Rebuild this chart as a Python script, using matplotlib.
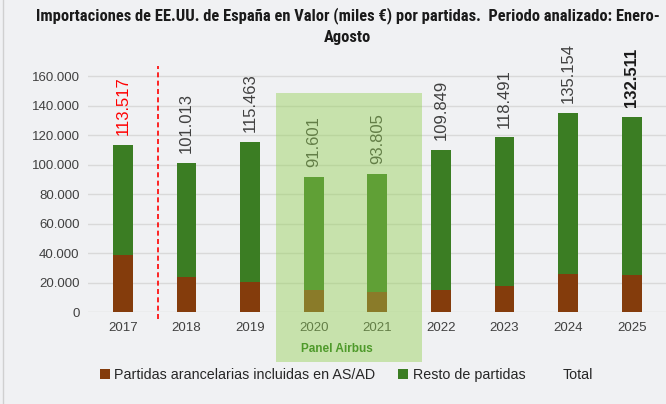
import matplotlib
matplotlib.use("Agg")
import matplotlib.pyplot as plt
import matplotlib.transforms as mtransforms
from matplotlib.patches import Patch, Rectangle
from matplotlib.lines import Line2D

years = ["2017", "2018", "2019", "2020", "2021", "2022", "2023", "2024", "2025"]
totals = [113517, 101013, 115463, 91601, 93805, 109849, 118491, 135154, 132511]
asad = [38600, 23900, 20100, 14900, 13800, 14900, 17800, 26000, 25100]
resto = [t - a for t, a in zip(totals, asad)]
total_labels = ["113.517", "101.013", "115.463", "91.601", "93.805",
                "109.849", "118.491", "135.154", "132.511"]

brown = "#843c0c"
green = "#3b7d23"
bg = "#f0f1f3"

plt.rcParams['font.family'] = ['Liberation Sans', 'DejaVu Sans']

fig = plt.figure(figsize=(6.66, 4.04), dpi=100, facecolor=bg)
ax = fig.add_axes([0.132, 0.2277, 0.868, 0.6097])
ax.set_facecolor(bg)

# thin frame line on the left edge
fig.add_artist(Line2D([0.005, 0.005], [0, 1], transform=fig.transFigure,
                      color="#d0d0d0", linewidth=1))

x = list(range(len(years)))
ax.bar(x, asad, width=0.31, color=brown, zorder=2)
ax.bar(x, resto, width=0.31, bottom=asad, color=green, zorder=2)

for i, (t, lab) in enumerate(zip(totals, total_labels)):
    col = "#404040"
    weight = "normal"
    if i == 0:
        col = "#ff0000"
    if i == len(years) - 1:
        weight = "bold"
        col = "#1a1a1a"
    ax.annotate(lab, (i, t), xytext=(0, 7), textcoords="offset points",
                rotation=90, ha="center", va="bottom", fontsize=12,
                color=col, fontweight=weight, zorder=3, annotation_clip=False)

ax.set_xlim(-0.55, 8.54)
ax.set_ylim(0, 167000)
ax.set_xticks(x)
ax.set_xticklabels(years)
yt = list(range(0, 160001, 20000))
ax.set_yticks(yt)
ax.set_yticklabels(["0" if v == 0 else f"{v:,}".replace(",", ".") for v in yt])
ax.tick_params(length=0, labelsize=9.5, colors="#404040", pad=7)
ax.tick_params(axis="y", pad=6)
ax.grid(axis="y", color="#d9d9d9", linewidth=1, zorder=0)
ax.set_axisbelow(True)
for s in ax.spines.values():
    s.set_visible(False)

# red dashed separator
trans = mtransforms.blended_transform_factory(ax.transData, ax.transAxes)
ax.plot([0.55, 0.55], [-0.03, 1.0], transform=trans, color="#ff0000",
        linestyle=(0, (3, 2)), linewidth=1.2, clip_on=False, zorder=3)

# Airbus panel
ax.add_patch(Rectangle((2.41, -0.203), 2.29, 1.092, transform=trans,
                       facecolor="#92d050", alpha=0.43, edgecolor="none",
                       clip_on=False, zorder=4))
ax.text(3.37, -0.15, "Panel Airbus", transform=trans, ha="center", va="center",
        fontsize=8.5, fontweight="bold", color="#4e9a2a", zorder=5)

fig.suptitle("Importaciones de EE.UU. de España en Valor (miles €) por partidas.  Periodo analizado: Enero-\nAgosto",
             x=0.522, y=0.982, fontsize=11.9, fontweight="bold", color="#1a1a1a",
             family=['Roboto Condensed', 'Liberation Sans Narrow', 'Liberation Sans'],
             linespacing=1.5)

handles = [Patch(facecolor=brown), Patch(facecolor=green),
           Patch(facecolor="none", edgecolor="none")]
fig.legend(handles, ["Partidas arancelarias incluidas en AS/AD", "Resto de partidas", "Total"],
           loc="center", bbox_to_anchor=(0.52, 0.072), ncol=3, frameon=False,
           fontsize=10.3, handlelength=0.7, handleheight=0.7, handletextpad=0.3,
           columnspacing=1.6, labelcolor="#262626")

fig.savefig("out.png", dpi=100, facecolor=bg)
